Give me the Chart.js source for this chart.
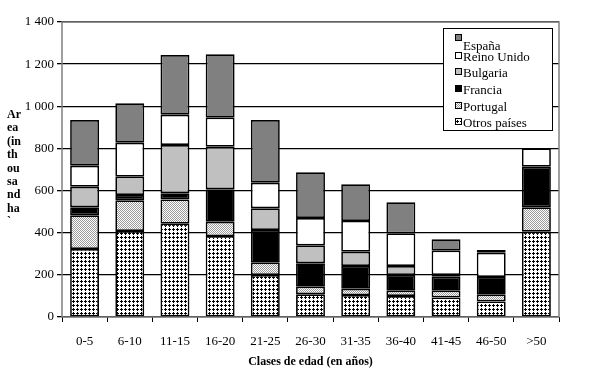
<!DOCTYPE html>
<html>
<head>
<meta charset="utf-8">
<script src="https://cdn.jsdelivr.net/npm/chart.js@4/dist/chart.umd.min.js"></script>
<style>
  html, body { margin: 0; padding: 0; background: #fff; }
  #wrap { width: 604px; height: 371px; position: relative; }
</style>
</head>
<body>
<div id="wrap"><canvas id="chart" width="604" height="371"></canvas></div>
<script>
// ── Data (thousand ha, per age class, stacked bottom → top) ──
const categories = ['0-5', '6-10', '11-15', '16-20', '21-25', '26-30', '31-35', '36-40', '41-45', '46-50', '>50'];
const otros    = [323, 408, 443, 384, 199, 108, 104, 100, 93, 74, 405];
const portugal = [160, 146, 115, 68, 59, 36, 30, 25, 32, 32, 116];
const francia  = [38, 25, 29, 154, 155, 111, 108, 74, 66, 84, 192];
const bulgaria = [97, 87, 229, 202, 103, 85, 68, 43, 8, 0, 0];
const reino    = [100, 161, 144, 138, 121, 130, 146, 155, 116, 115, 88];
const espana   = [217, 187, 283, 301, 298, 217, 174, 147, 54, 13, 0];
const yTicks   = [0, 200, 400, 600, 800, 1000, 1200, 1400];
const yTitleLines = ['Ar', 'ea', '(in', 'th', 'ou', 'sa', 'nd', 'ha', '`'];

const SERIF = '"Liberation Serif", "Times New Roman", serif';

// ── Fill patterns ────────────────────────────────────────────
function makePattern(size, draw) {
  const c = document.createElement('canvas');
  c.width = size; c.height = size;
  const g = c.getContext('2d');
  g.fillStyle = '#fff';
  g.fillRect(0, 0, size, size);
  draw(g);
  return g.createPattern(c, 'repeat');
}
const ctx = document.getElementById('chart').getContext('2d');
// small black "+" shapes on white
const otrosFill = makePattern(4, g => {
  g.fillStyle = '#000';
  g.fillRect(0, 1, 3, 1);
  g.fillRect(1, 0, 1, 3);
});
// fine light dotted gray
const portugalFill = makePattern(2, g => {
  g.fillStyle = '#9a9a9a';
  g.fillRect(0, 0, 1, 1);
  g.fillRect(1, 1, 1, 1);
});

const series = [
  { label: 'Otros países', data: otros, fill: otrosFill },
  { label: 'Portugal', data: portugal, fill: portugalFill },
  { label: 'Francia', data: francia, fill: '#000000' },
  { label: 'Bulgaria', data: bulgaria, fill: '#c0c0c0' },
  { label: 'Reino Unido', data: reino, fill: '#ffffff' },
  { label: 'España', data: espana, fill: '#808080' }
];

// ── Plugins: frame, legend box, vertical y title ─────────────
const extras = {
  id: 'extras',
  beforeDatasetsDraw(chart) {
    const a = chart.chartArea, c = chart.ctx;
    c.save();
    c.strokeStyle = '#808080';
    c.lineWidth = 1.5;
    c.strokeRect(a.left, a.top, a.right - a.left, a.bottom - a.top);
    c.restore();
  },
  afterDraw(chart) {
    const c = chart.ctx;
    c.save();
    // y axis title, broken into short lines
    c.font = 'bold 12px ' + SERIF;
    c.fillStyle = '#000';
    c.textBaseline = 'middle';
    c.textAlign = 'left';
    yTitleLines.forEach((t, i) => c.fillText(t, 7, 115 + i * 13.4));

    // legend
    const bx = 443.5, by = 28.5, bw = 109, bh = 102;
    c.fillStyle = '#fff';
    c.fillRect(bx, by, bw, bh);
    c.strokeStyle = '#000';
    c.lineWidth = 1;
    c.strokeRect(bx, by, bw, bh);
    c.font = '13px ' + SERIF;
    const rows = series.slice().reverse();
    const ys = [47, 58, 74, 91, 108, 124];
    rows.forEach((s, i) => {
      const ty = ys[i];
      const sy = i === 0 ? 34 : ty - 6;
      c.fillStyle = s.fill;
      c.fillRect(455, sy, 6, 6);
      c.strokeStyle = '#000';
      c.strokeRect(455.5, sy + 0.5, 6, 6);
      c.fillStyle = '#000';
      c.fillText(s.label, 463, ty);
    });
    c.restore();
  }
};

new Chart(ctx, {
  type: 'bar',
  data: {
    labels: categories,
    datasets: series.map(s => ({
      label: s.label,
      data: s.data,
      backgroundColor: s.fill,
      borderColor: '#000',
      borderWidth: 1.7,
      borderSkipped: false,
      categoryPercentage: 1,
      barPercentage: 0.64
    }))
  },
  options: {
    responsive: false,
    animation: false,
    layout: { padding: { left: 0, top: 22, right: 45, bottom: 0 } },
    plugins: {
      legend: { display: false },
      tooltip: { enabled: false }
    },
    scales: {
      x: {
        stacked: true,
        grid: { display: true, drawOnChartArea: false, drawTicks: true, tickLength: 5, offset: true, color: '#000' },
        border: { display: false },
        ticks: { color: '#000', font: { family: SERIF, size: 13 }, padding: 12, maxRotation: 0 },
        title: { display: true, text: 'Clases de edad (en años)', color: '#000', font: { family: SERIF, size: 12, weight: 'bold' }, padding: { top: 4, bottom: 2 } },
        afterFit(scale) { scale.height = 54; }
      },
      y: {
        stacked: true,
        min: 0,
        max: 1400,
        afterBuildTicks(scale) { scale.ticks = yTicks.map(v => ({ value: v })); },
        grid: { color: '#000', lineWidth: 1.3, tickLength: 5, drawTicks: true },
        border: { display: false },
        ticks: {
          color: '#000',
          font: { family: SERIF, size: 13 },
          padding: 3,
          callback: v => String(v).replace(/\B(?=(\d{3})+(?!\d))/g, ' ')
        },
        afterFit(scale) { scale.width = 62; }
      }
    }
  },
  plugins: [extras]
});
</script>
</body>
</html>
